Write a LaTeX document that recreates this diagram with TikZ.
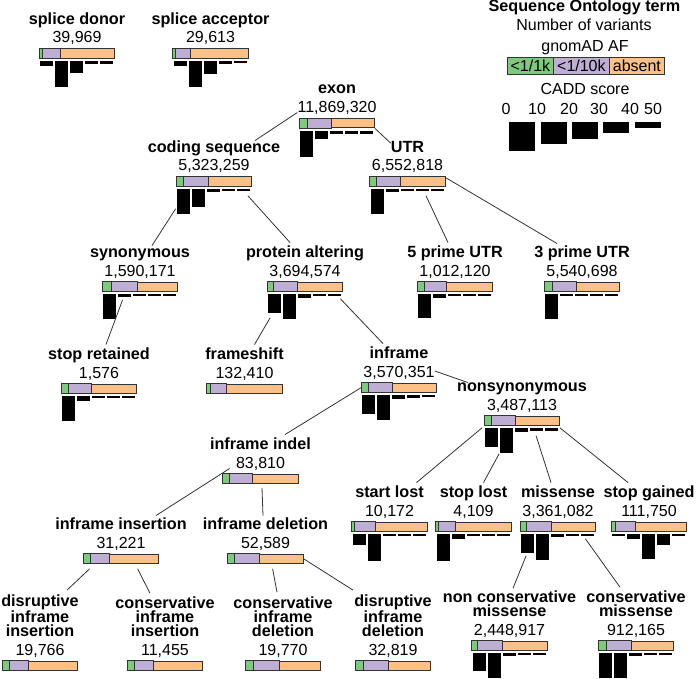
\documentclass[tikz,border=0pt]{standalone}
\usepackage{fontspec}
\setmainfont{Liberation Sans}
\usetikzlibrary{calc}
\definecolor{aG}{HTML}{7FC97F}
\definecolor{aP}{HTML}{BEAED4}
\definecolor{aO}{HTML}{FDC086}
\definecolor{edge}{HTML}{333333}
\tikzset{
  lab/.style={font=\bfseries\fontsize{16.2}{14}\selectfont, inner sep=0pt, align=center},
  num/.style={font=\fontsize{16}{18}\selectfont, inner sep=0pt},
  afbar/.style={draw=edge, fill=aO, line width=0.8pt, minimum width=75pt, minimum height=9.5pt, inner sep=0pt, anchor=north},
  seg/.style={draw=edge, line width=0.8pt},
  caddbar/.style={fill=black},
  conn/.style={draw=edge, line width=0.8pt},
  legbox/.style={num, draw=edge, line width=0.8pt, minimum height=17pt, anchor=north west},
}
\newcommand\sonode[9]{%
  \node[lab,#4] (#1) at (#2,#3-18.5) {#5};
  \node[num,anchor=base] (#1-n) at (#2,#3) {#6};
  \node[afbar] (#1-b) at (#2,#3+5.5) {};
  \filldraw[seg,fill=aG] (#1-b.north west) rectangle ([xshift=#7pt]#1-b.south west);
  \filldraw[seg,fill=aP] ([xshift=#7pt]#1-b.north west) rectangle ([xshift=#8pt]#1-b.south west);
  \if\relax\detokenize{#9}\relax\else
    \foreach \h [count=\i from 0] in {#9}
      \fill[caddbar] ([xshift={(1+15*\i)*1pt},yshift=-2.5pt]#1-b.south west) rectangle ++(13,\h);
  \fi
}
\begin{document}
\begin{tikzpicture}[x=1pt,y=-1pt]
\useasboundingbox (0,0) rectangle (696,679);
% legend
\node[lab,anchor=base] (lt) at (584.5,12) {Sequence Ontology term};
\node[num,anchor=base] (lnv) at (584,31) {Number of variants};
\node[num,anchor=base] (laf) at (585,52) {gnomAD AF};
\node[legbox,fill=aG,minimum width=46pt] (lg) at (507,57) {<1/1k};
\node[legbox,fill=aP,minimum width=56pt] (lp) at (553,57) {<1/10k};
\node[legbox,fill=aO,minimum width=55pt] (lo) at (609,57) {absent};
\node[num,anchor=base] (lcadd) at (585,95) {CADD score};
\foreach \v/\x in {0/506,10/537,20/569,30/599,40/630,50/653}
  \node[num,anchor=base] (ln\v) at (\x,115) {\v};
\foreach \x/\h in {509/29,541/22,572/17,603/11,635/6}
  \fill[caddbar] (\x,122) rectangle ++(26,\h);
% nodes
\sonode{sd}{77}{43}{anchor=base}{splice donor}{39,969}{3}{21}{5,26,12,3,3}
\sonode{sa}{210.5}{43}{anchor=base}{splice acceptor}{29,613}{3}{18}{5,26,13,3,2}
\sonode{exon}{337}{112.5}{anchor=base}{exon}{11,869,320}{8}{32}{26,8,3,3,3}
\sonode{cs}{214}{171}{anchor=base}{coding sequence}{5,323,259}{7}{32}{25,18,3,2,2}
\sonode{utr}{407.5}{171}{anchor=base}{UTR}{6,552,818}{7}{31}{25,3,2,2,2}
\sonode{syn}{140}{276}{anchor=base}{synonymous}{1,590,171}{9}{35}{25,3,2,2,2}
\sonode{pa}{305}{276}{anchor=base}{protein altering}{3,694,574}{6}{30}{19,25,4,2,2}
\sonode{ufive}{455}{276}{anchor=base}{5 prime UTR}{1,012,120}{7}{29}{24,4,2,2,2}
\sonode{uthree}{582}{276}{anchor=base}{3 prime UTR}{5,540,698}{8}{32}{25,2,2,2,2}
\sonode{sr}{99}{378}{anchor=base}{stop retained}{1,576}{7}{30}{25,5,2,2,2}
\sonode{fs}{244.5}{378}{anchor=base}{frameshift}{132,410}{4}{20}{}
\sonode{inf}{399}{377}{anchor=base}{inframe}{3,570,351}{7}{31}{19,25,4,3,2}
\sonode{ns}{522}{410}{anchor=base}{nonsynonymous}{3,487,113}{7}{31}{19,25,4,3,3}
\sonode{ii}{260.5}{468}{anchor=base}{inframe indel}{83,810}{7}{30}{}
\sonode{ins}{121}{548}{anchor=base}{inframe insertion}{31,221}{7}{26}{}
\sonode{del}{265.5}{548}{anchor=base}{inframe deletion}{52,589}{7}{32}{}
\sonode{sl}{389.5}{516}{anchor=base}{start lost}{10,172}{3}{24}{11,27,2,2,2}
\sonode{stl}{473.5}{516}{anchor=base}{stop lost}{4,109}{3}{20}{27,5,2,2,2}
\sonode{mis}{558}{516}{anchor=base}{missense}{3,361,082}{6}{31}{19,26,3,2,2}
\sonode{sg}{649}{516}{anchor=base}{stop gained}{111,750}{4}{24}{2,5,25,11,2}
\sonode{ncm}{509.5}{635}{anchor=south}{non conservative\\missense}{2,448,917}{6}{31}{18,25,3,2,2}
\sonode{cm}{636}{635}{anchor=south}{conservative\\missense}{912,165}{8}{33}{25,25,3,2,2}
\sonode{dii}{40}{655}{anchor=south}{disruptive\\inframe\\insertion}{19,766}{7}{26}{}
\sonode{cii}{165}{655}{anchor=south}{conservative\\inframe\\insertion}{11,455}{7}{26}{}
\sonode{cid}{283}{655}{anchor=south}{conservative\\inframe\\deletion}{19,770}{8}{34}{}
\sonode{did}{393}{655}{anchor=south}{disruptive\\inframe\\deletion}{32,819}{8}{33}{}
% connectors
\draw[conn] (exon-n.base west) -- ($(cs.north)+(41,0)$);
\draw[conn] (exon-b.south east) -- ($(utr.north west)+(0,2)$);
\draw[conn] ($(cs-b.south west)+(-0.5,22)$) -- ($(syn.north)+(12,-3)$);
\draw[conn] ($(cs-b.south east)+(-4,9)$) -- ($(pa.north)+(-15,-3)$);
\draw[conn] ($(utr-b.south)+(18.5,9)$) -- ($(ufive.north)+(-7,-3)$);
\draw[conn] ($(utr-b.north east)+(0,1)$) -- ($(uthree.north west)+(23,-2)$);
\draw[conn] ($(syn-b.south west)+(20.5,8)$) -- ($(sr.north)+(7,-3)$);
\draw[conn] ($(pa-b.south west)+(3,26)$) -- ($(fs.north)+(10,-3)$);
\draw[conn] ($(pa-b.south east)+(-2.5,7)$) -- ($(inf.north)+(-16,-3)$);
\draw[conn] ($(inf-n.base east)+(0,-6)$) -- ($(ns.north west)+(11,0)$);
\draw[conn] (inf-b.west) -- ($(ii.north)+(24.5,-3)$);
\draw[conn] ($(ii-b.north west)+(7,-5)$) -- ($(ins.north)+(35,-2)$);
\draw[conn] ($(ii-b.south)+(1.5,4)$) -- ($(del.north)+(-2.5,-2)$);
\draw[conn] ($(ns-b.south west)+(-2,2)$) -- ($(sl.north)+(27,-3)$);
\draw[conn] ($(ns-b.south west)+(15,28)$) -- ($(stl.north)+(10,-3)$);
\draw[conn] ($(ns-b.south west)+(52,10)$) -- ($(mis.north)+(-7,-3)$);
\draw[conn] ($(ns-b.south east)+(0,2)$) -- ($(sg.north)+(-21,-3)$);
\draw[conn] ($(mis-b.south west)+(6,24)$) -- ($(ncm.north)+(3.5,-2)$);
\draw[conn] ($(mis-b.south east)+(-10.5,7)$) -- ($(cm.north)+(-16,-3)$);
\draw[conn] ($(ins-b.south west)+(6.5,5)$) -- ($(dii.north)+(27,-4)$);
\draw[conn] ($(ins-b.south west)+(54.5,5)$) -- ($(cii.north)+(-15,-3)$);
\draw[conn] ($(del-b.south west)+(45,5)$) -- ($(cid.north)+(-6,-4)$);
\draw[conn] (del-b.east) -- ($(did.north)+(-40,-4)$);
\end{tikzpicture}
\end{document}
